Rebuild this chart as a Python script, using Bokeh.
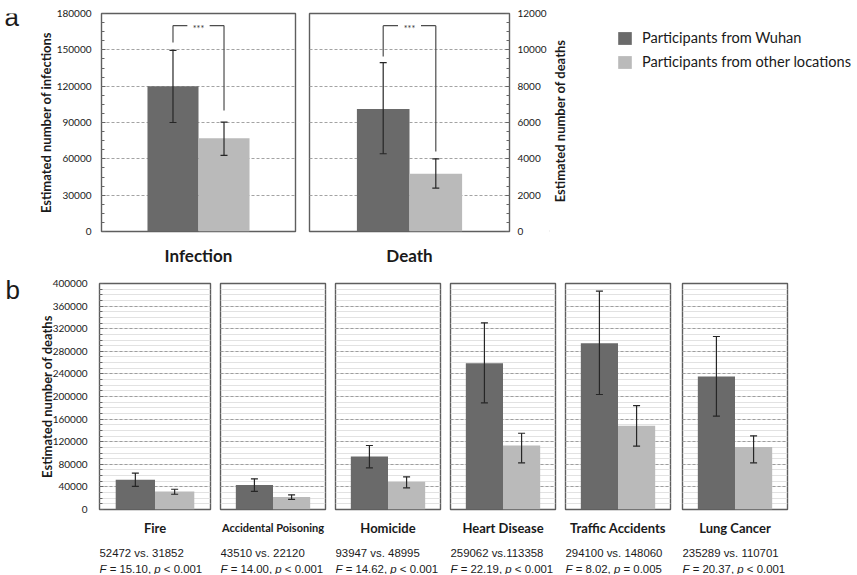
import math
from bokeh.plotting import figure
from bokeh.layouts import column, row
from bokeh.models import (Range1d, SingleIntervalTicker, FixedTicker, BasicTickFormatter,
                          ColumnDataSource, Whisker, TeeHead, Label, Legend, LegendItem)
from bokeh.embed import file_html
from bokeh.resources import INLINE
from bokeh.core.properties import value

# ---------------- data ----------------
GROUPS = ["Participants from Wuhan", "Participants from other locations"]
TOP_CATS = ["Infection", "Death"]
TOP_YLABELS = ["Estimated number of infections", "Estimated number of deaths"]
INF_MEAN = [120000, 77000]
INF_LOW = [90000, 62800]
INF_HIGH = [149500, 90300]
DEATH_MEAN = [6750, 3180]
DEATH_LOW = [4280, 2390]
DEATH_HIGH = [9300, 4000]
TOP_YMAX = [180000, 12000]
TOP_TICK = [30000, 2000]
SIG_TEXT = "***"
SIG_TOP = [170000, 11330]
SIG_LEFT_END = [156000, 9630]
SIG_RIGHT_END = [100000, 4400]

CAUSES = ["Fire", "Accidental Poisoning", "Homicide", "Heart Disease",
          "Traffic Accidents", "Lung Cancer"]
WUHAN = [52472, 43510, 93947, 259062, 294100, 235289]
OTHER = [31852, 22120, 48995, 113358, 148060, 110701]
WUHAN_LOW = [41000, 32000, 73800, 188800, 203500, 165100]
WUHAN_HIGH = [64500, 54300, 113300, 330400, 386400, 306200]
OTHER_LOW = [27000, 17800, 38400, 82600, 112000, 82600]
OTHER_HIGH = [35800, 26000, 57900, 135000, 184000, 130400]
VS_SEP = [" vs. ", " vs. ", " vs. ", " vs.", " vs. ", " vs. "]
F_VALUES = ["15.10", "14.00", "14.62", "22.19", "8.02", "20.37"]
P_TEXTS = ["< 0.001", "< 0.001", "< 0.001", "< 0.001", "= 0.005", "< 0.001"]
BOTTOM_YMAX = 400000
BOTTOM_TICK = 40000
Y_LABEL_BOTTOM = "Estimated number of deaths"
PANEL_LETTERS = ["a", "b"]

# ---------------- style ----------------
DARK = "#6a6a6a"
LIGHT = "#bababa"
ERR = "#262626"
FRAME = "#5e5e5e"
TXT = "#1a1a1a"
FONT = "Lato"
CAP_FONT = "Liberation Sans"
CAP_SIZE = 11.4
YLAB_SIZE = "13px"

ARIAL_W = {" ": 0.278, "=": 0.584, "<": 0.584, ".": 0.278, ",": 0.278, "F": 0.611, "p": 0.556}
for d in "0123456789":
    ARIAL_W[d] = 0.556


def tw(s, size=CAP_SIZE):
    return sum(ARIAL_W.get(c, 0.556) for c in s) * size


def base_fig(width, height, ymax, lb, rb, tb, bb, yloc="left"):
    p = figure(width=width, height=height, x_range=Range1d(0, 2), y_range=Range1d(0, ymax),
               output_backend="svg", toolbar_location=None, y_axis_location=yloc,
               min_border_left=lb, min_border_right=rb, min_border_top=tb, min_border_bottom=bb)
    p.outline_line_color = FRAME
    p.outline_line_width = 1.4
    p.xgrid.grid_line_color = None
    p.background_fill_color = "white"
    p.border_fill_color = "white"
    xa = p.xaxis[0]
    xa.ticker = FixedTicker(ticks=[1])
    xa.axis_line_color = None
    xa.major_tick_in = 0
    xa.major_tick_out = 0
    xa.minor_tick_in = 0
    xa.minor_tick_out = 0
    xa.major_label_text_font = FONT
    xa.major_label_text_font_style = "bold"
    xa.major_label_text_color = TXT
    return p


def text_fig(width, height, xr, yr, lb=0, rb=0):
    p = figure(width=width, height=height, x_range=xr, y_range=yr,
               output_backend="svg", toolbar_location=None,
               x_axis_location=None, y_axis_location=None,
               min_border_left=lb, min_border_right=rb, min_border_top=0, min_border_bottom=0)
    p.outline_line_color = None
    for g in p.grid:
        g.visible = False
    p.background_fill_color = "white"
    p.border_fill_color = "white"
    return p


def style_yaxis(p, ticker, standoff):
    ya = p.yaxis[0]
    ya.ticker = ticker
    ya.formatter = BasicTickFormatter(use_scientific=False)
    ya.axis_line_color = None
    ya.major_tick_in = 4
    ya.major_tick_out = 0
    ya.minor_tick_in = 3
    ya.minor_tick_out = 0
    ya.major_tick_line_color = "#666666"
    ya.minor_tick_line_color = "#666666"
    ya.major_label_text_font = FONT
    ya.major_label_text_font_size = "10px"
    ya.major_label_text_color = TXT
    ya.major_label_standoff = standoff
    ya.axis_label_text_font = FONT
    ya.axis_label_text_font_style = "bold"
    ya.axis_label_text_font_size = YLAB_SIZE
    ya.axis_label_text_color = TXT


def bars(p, means, lows, highs, bw):
    xs = [1 - bw / 2, 1 + bw / 2]
    r1 = p.vbar(x=[xs[0]], top=[means[0]], width=bw, fill_color=DARK, line_color=None)
    r2 = p.vbar(x=[xs[1]], top=[means[1]], width=bw, fill_color=LIGHT, line_color=None)
    src = ColumnDataSource(dict(x=xs, lower=lows, upper=highs))
    p.add_layout(Whisker(source=src, base="x", lower="lower", upper="upper", dimension="height",
                         line_color=ERR, line_width=1.2, level="annotation",
                         upper_head=TeeHead(size=7, line_color=ERR, line_width=1.2),
                         lower_head=TeeHead(size=7, line_color=ERR, line_width=1.2)))
    return r1, r2, xs


# ---------------- top row ----------------
TOP_H = 270
LET_W = 28
BW_TOP = 0.526
GAP = 0.115
top_means = [INF_MEAN, DEATH_MEAN]
top_lows = [INF_LOW, DEATH_LOW]
top_highs = [INF_HIGH, DEATH_HIGH]

a_fig = text_fig(LET_W, TOP_H, Range1d(0, LET_W), Range1d(0, TOP_H))
a_fig.add_layout(Label(x=4, y=TOP_H - 4, text=PANEL_LETTERS[0], text_font="Liberation Sans",
                       text_font_size="26px", text_color=TXT, text_align="left",
                       text_baseline="middle"))

fa1 = base_fig(73 + 194 + 7, TOP_H, TOP_YMAX[0], 73, 7, 13, TOP_H - 13 - 218)
fa2 = base_fig(7 + 200 + 40, TOP_H, TOP_YMAX[1], 7, 40, 13, TOP_H - 13 - 218, yloc="right")

for i, p in enumerate([fa1, fa2]):
    tk = SingleIntervalTicker(interval=TOP_TICK[i], num_minor_ticks=4)
    style_yaxis(p, tk, 10 if i == 0 else 8)
    p.ygrid.ticker = tk
    p.ygrid.grid_line_color = "#a3a3a3"
    p.ygrid.grid_line_dash = "3 2"
    xa = p.xaxis[0]
    xa.major_label_overrides = {1: TOP_CATS[i]}
    xa.major_label_text_font_size = "17px"
    xa.major_label_standoff = 13
    r1, r2, xs = bars(p, top_means[i], top_lows[i], top_highs[i], BW_TOP)
    top = SIG_TOP[i]
    p.segment(x0=[xs[0], xs[0], 1 + GAP, xs[1]], y0=[SIG_LEFT_END[i], top, top, top],
              x1=[xs[0], 1 - GAP, xs[1], xs[1]], y1=[top, top, top, SIG_RIGHT_END[i]],
              line_color="#4d4d4d", line_width=1.2)
    p.text(x=[1], y=[top], text=[SIG_TEXT], text_align="center", text_baseline="middle",
           text_font=value(FONT), text_font_size="9px", text_color="#333333", y_offset=3)

fa1.yaxis[0].axis_label = TOP_YLABELS[0]
fa1.yaxis[0].axis_label_standoff = 0

SIDE_W = 857 - (LET_W + fa1.width + fa2.width)
side = text_fig(SIDE_W, TOP_H, Range1d(0, SIDE_W), Range1d(0, TOP_H))
side.add_layout(Label(x=10, y=TOP_H - 133, text=TOP_YLABELS[1], angle=math.pi / 2,
                      text_font=FONT, text_font_style="bold", text_font_size=YLAB_SIZE,
                      text_color=TXT, text_align="center", text_baseline="middle"))
# legend swatches: key-only renderers kept outside the visible range of this text panel
d1 = side.vbar(x=[-1000], top=[1], width=1, fill_color=DARK, line_color=None)
d2 = side.vbar(x=[-1000], top=[1], width=1, fill_color=LIGHT, line_color=None)
legend = Legend(items=[LegendItem(label=GROUPS[0], renderers=[d1]),
                       LegendItem(label=GROUPS[1], renderers=[d2])],
                location=(616 - (857 - SIDE_W), TOP_H - 109), glyph_width=17, glyph_height=16,
                label_height=16, label_standoff=9, spacing=7, padding=0, margin=0,
                border_line_color=None, background_fill_alpha=0,
                label_text_font=FONT, label_text_font_size="14.6px", label_text_color=TXT)
side.add_layout(legend)

top_row = row(a_fig, fa1, fa2, side, spacing=0)

# ---------------- bottom row ----------------
BOT_H = 270
CAP_H = 34
BW_BOT = 0.708
cols = []
b_fig = text_fig(LET_W, BOT_H + CAP_H, Range1d(0, LET_W), Range1d(0, BOT_H + CAP_H))
b_fig.add_layout(Label(x=5, y=BOT_H + CAP_H - 19, text=PANEL_LETTERS[1], text_font="Liberation Sans",
                       text_font_size="26px", text_color=TXT, text_align="left",
                       text_baseline="middle"))
cols.append(b_fig)

for i, cause in enumerate(CAUSES):
    lb = 71 if i == 0 else 5
    rb = 7 if i == 4 else 5
    fw = 111 if i == 0 else 105
    p = base_fig(lb + fw + rb, BOT_H, BOTTOM_YMAX, lb, rb, 13, BOT_H - 13 - 226)
    tk = SingleIntervalTicker(interval=BOTTOM_TICK, num_minor_ticks=4)
    style_yaxis(p, tk, 12)
    p.ygrid.ticker = tk
    p.ygrid.grid_line_color = "#9e9e9e"
    p.ygrid.grid_line_dash = "3 2"
    p.ygrid.minor_grid_line_color = "#e2e2e2"
    if i == 0:
        p.yaxis[0].axis_label = Y_LABEL_BOTTOM
        p.yaxis[0].axis_label_standoff = -5
    else:
        p.yaxis[0].visible = False
    xa = p.xaxis[0]
    xa.major_label_overrides = {1: cause}
    xa.major_label_text_font_size = "11px" if len(cause) > 18 else "13px"
    xa.major_label_standoff = 10 if len(cause) <= 18 else 11
    bars(p, [WUHAN[i], OTHER[i]], [WUHAN_LOW[i], OTHER_LOW[i]], [WUHAN_HIGH[i], OTHER_HIGH[i]], BW_BOT)

    # caption lines under the panel
    c = text_fig(lb + fw + rb, CAP_H, Range1d(0, fw), Range1d(0, CAP_H), lb=lb, rb=rb)
    cap = dict(text_font=CAP_FONT, text_font_size=f"{CAP_SIZE}px", text_color=TXT,
               text_align="left", text_baseline="middle")
    c.add_layout(Label(x=0, y=CAP_H - 12, text=f"{WUHAN[i]}{VS_SEP[i]}{OTHER[i]}", **cap))
    seg2 = f"= {F_VALUES[i]},"
    x2 = tw("F") + tw(" ")
    x3 = x2 + tw(seg2) + tw(" ")
    x4 = x3 + tw("p") + tw(" ")
    y2 = CAP_H - 28.5
    c.add_layout(Label(x=0, y=y2, text="F", text_font_style="italic", **cap))
    c.add_layout(Label(x=x2, y=y2, text=seg2, **cap))
    c.add_layout(Label(x=x3, y=y2, text="p", text_font_style="italic", **cap))
    c.add_layout(Label(x=x4, y=y2, text=P_TEXTS[i], **cap))
    cols.append(column(p, c, spacing=0))

bottom_row = row(*cols, spacing=0)
layout = column(top_row, bottom_row, spacing=0)
open("out.html", "w").write(file_html(layout, INLINE))
